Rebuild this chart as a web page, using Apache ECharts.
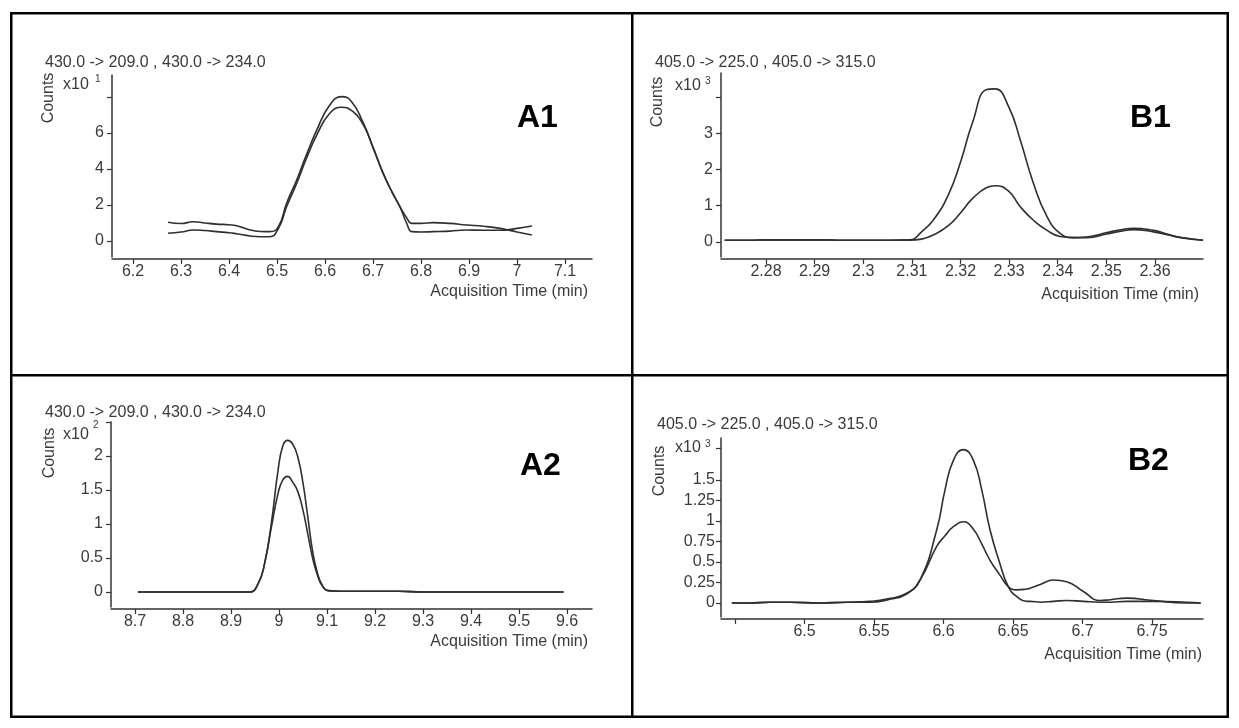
<!DOCTYPE html>
<html><head><meta charset="utf-8">
<script src="https://cdn.jsdelivr.net/npm/echarts@6/dist/echarts.min.js"></script>
<style>html,body{margin:0;padding:0;background:#fff}#c{width:1239px;height:728px}</style>
</head><body><div id="c"></div>
<script>
// ---------- DATA ----------
// A1
const A1_TIME = [6.273, 6.30, 6.326, 6.35, 6.374, 6.40, 6.416, 6.444, 6.465, 6.485, 6.503, 6.52, 6.541, 6.56, 6.583, 6.61, 6.635, 6.655, 6.679, 6.70, 6.721, 6.74, 6.756, 6.77, 6.781, 6.80, 6.825, 6.86, 6.895, 6.93, 6.965, 7.0, 7.031];
const A1_209 = [1.04, 0.97, 1.07, 1.0, 0.94, 0.9, 0.85, 0.61, 0.53, 0.52, 0.8, 2.1, 3.39, 4.7, 6.17, 7.56, 8.02, 7.75, 6.6, 5.2, 3.77, 2.7, 1.91, 1.3, 0.98, 0.98, 1.02, 0.98, 0.89, 0.82, 0.70, 0.5, 0.33];
const A1_234 = [0.43, 0.5, 0.61, 0.58, 0.52, 0.46, 0.4, 0.28, 0.24, 0.24, 0.7, 1.9, 3.2, 4.5, 5.9, 7.1, 7.43, 7.25, 6.5, 5.2, 3.77, 2.7, 1.91, 1.0, 0.52, 0.5, 0.52, 0.55, 0.61, 0.6, 0.6, 0.7, 0.83];
const A1_XTICKS = [6.2, 6.3, 6.4, 6.5, 6.6, 6.7, 6.8, 6.9, 7.0, 7.1];
const A1_YTICKS = [0, 2, 4, 6, 8];
const A1_YLABELS = [0, 2, 4, 6];

// B1
const B1_TIME = [2.2715, 2.276, 2.281, 2.286, 2.291, 2.296, 2.300, 2.305, 2.3095, 2.312, 2.3145, 2.3175, 2.320, 2.3225, 2.3254, 2.3271, 2.3299, 2.3323, 2.335, 2.3378, 2.3405, 2.3432, 2.346, 2.3501, 2.353, 2.3556, 2.3597, 2.3625, 2.3652, 2.3699];
const B1_225 = [0.05, 0.05, 0.06, 0.06, 0.06, 0.05, 0.05, 0.05, 0.06, 0.28, 0.62, 1.3, 2.2, 3.3, 4.2, 4.22, 3.73, 2.81, 1.62, 0.7, 0.24, 0.12, 0.14, 0.26, 0.34, 0.38, 0.32, 0.22, 0.13, 0.05];
const B1_315 = [0.05, 0.05, 0.06, 0.06, 0.06, 0.05, 0.05, 0.05, 0.05, 0.08, 0.2, 0.45, 0.8, 1.2, 1.5, 1.55, 1.40, 0.97, 0.6, 0.32, 0.15, 0.12, 0.12, 0.22, 0.3, 0.34, 0.28, 0.2, 0.12, 0.05];
const B1_XTICKS = [2.28, 2.29, 2.30, 2.31, 2.32, 2.33, 2.34, 2.35, 2.36];
const B1_YTICKS = [0, 1, 2, 3, 4];
const B1_YLABELS = [0, 1, 2, 3];

// A2
const A2_TIME = [8.706, 8.75, 8.80, 8.85, 8.90, 8.939, 8.957, 8.970, 8.984, 8.998, 9.008, 9.018, 9.028, 9.039, 9.05, 9.06, 9.07, 9.08, 9.09, 9.102, 9.13, 9.17, 9.20, 9.25, 9.30, 9.40, 9.50, 9.593];
const A2_209 = [0, 0, 0, 0, 0, 0, 0.13, 0.42, 1.01, 1.79, 2.15, 2.23, 2.18, 1.99, 1.6, 1.1, 0.6, 0.28, 0.1, 0.02, 0.01, 0.01, 0.01, 0.01, 0, 0, 0, 0];
const A2_234 = [0, 0, 0, 0, 0, 0, 0.13, 0.42, 0.95, 1.45, 1.65, 1.70, 1.62, 1.48, 1.2, 0.85, 0.5, 0.25, 0.09, 0.02, 0.01, 0.01, 0.01, 0.01, 0, 0, 0, 0];
const A2_XTICKS = [8.7, 8.8, 8.9, 9.0, 9.1, 9.2, 9.3, 9.4, 9.5, 9.6];
const A2_YTICKS = [0, 0.5, 1, 1.5, 2, 2.5];
const A2_YLABELS = [0, 0.5, 1, 1.5, 2];

// B2
const B2_TIME = [6.4477, 6.46, 6.475, 6.49, 6.51, 6.53, 6.547, 6.56, 6.5735, 6.5831, 6.5951, 6.6011, 6.6071, 6.6143, 6.6215, 6.6275, 6.6335, 6.6406, 6.6466, 6.6526, 6.6599, 6.6622, 6.67, 6.679, 6.6886, 6.7006, 6.7126, 6.72, 6.7318, 6.7509, 6.7749, 6.785];
const B2_225 = [0, 0, 0.01, 0.01, 0, 0.01, 0.02, 0.05, 0.12, 0.28, 0.89, 1.38, 1.74, 1.87, 1.74, 1.38, 0.89, 0.48, 0.20, 0.08, 0.02, 0.02, 0.01, 0.02, 0.03, 0.02, 0.01, 0.01, 0.02, 0.02, 0.01, 0];
const B2_315 = [0, 0, 0.01, 0.01, 0, 0.01, 0.01, 0.04, 0.11, 0.28, 0.69, 0.82, 0.93, 0.99, 0.9, 0.72, 0.52, 0.34, 0.2, 0.16, 0.17, 0.18, 0.23, 0.28, 0.26, 0.14, 0.03, 0.04, 0.06, 0.03, 0, 0];
const B2_XTICKS = [6.45, 6.5, 6.55, 6.6, 6.65, 6.7, 6.75];
const B2_XLABELS = [6.5, 6.55, 6.6, 6.65, 6.7, 6.75];
const B2_YTICKS = [0, 0.25, 0.5, 0.75, 1, 1.25, 1.5, 1.89];
const B2_YLABELS = [0, 0.25, 0.5, 0.75, 1, 1.25, 1.5];

const TITLE_A = '430.0 -> 209.0 , 430.0 -> 234.0';
const TITLE_B = '405.0 -> 225.0 , 405.0 -> 315.0';
const X_NAME = 'Acquisition Time (min)';
const Y_NAME = 'Counts';

// ---------- LAYOUT ----------
const FONT = '"Liberation Sans", Arial, Helvetica, sans-serif';
const TXT = '#3a3a3a';
const AX = '#333';
const LINE = '#2f2f2f';

const panels = [
  { grid: {left: 112, top: 75, width: 480, height: 182}, xMin: 6.15625, xMax: 7.15625, yMin: -0.889, yMax: 9.222,
    xTicks: A1_XTICKS, xLabels: A1_XTICKS, yTicks: A1_YTICKS, yLabels: A1_YLABELS, yMargin: 8,
    time: A1_TIME, series: [A1_209, A1_234] },
  { grid: {left: 721, top: 73, width: 482, height: 184}, xMin: 2.270745, xMax: 2.369881, yMin: -0.413, yMax: 4.656,
    xTicks: B1_XTICKS, xLabels: B1_XTICKS, yTicks: B1_YTICKS, yLabels: B1_YLABELS, yMargin: 8,
    time: B1_TIME, series: [B1_225, B1_315] },
  { grid: {left: 111, top: 422, width: 481, height: 185}, xMin: 8.65, xMax: 9.652, yMin: -0.2206, yMax: 2.5,
    xTicks: A2_XTICKS, xLabels: A2_XTICKS, yTicks: A2_YTICKS, yLabels: A2_YLABELS, yMargin: 8,
    time: A2_TIME, series: [A2_209, A2_234] },
  { grid: {left: 721, top: 438, width: 482, height: 179}, xMin: 6.43993, xMax: 6.78669, yMin: -0.1707, yMax: 2.012,
    xTicks: B2_XTICKS, xLabels: B2_XLABELS, yTicks: B2_YTICKS, yLabels: B2_YLABELS, yMargin: 6,
    time: B2_TIME, series: [B2_225, B2_315] }
];

function fmt(v) { return String(parseFloat(Number(v).toFixed(3))); }

const grids = [], xAxes = [], yAxes = [], series = [];
panels.forEach((p, i) => {
  grids.push(Object.assign({containLabel: false}, p.grid));
  xAxes.push({
    type: 'value', gridIndex: i, min: p.xMin, max: p.xMax, offset: 2,
    axisLine: {show: true, onZero: false, lineStyle: {color: AX, width: 1.5}},
    axisTick: {show: true, customValues: p.xTicks, length: 5, lineStyle: {color: AX, width: 1.2}},
    axisLabel: {customValues: p.xLabels, formatter: fmt, margin: 5, fontSize: 16, fontFamily: FONT, color: TXT},
    splitLine: {show: false}
  });
  yAxes.push({
    type: 'value', gridIndex: i, min: p.yMin, max: p.yMax,
    axisLine: {show: true, onZero: false, lineStyle: {color: AX, width: 1.5}},
    axisTick: {show: true, customValues: p.yTicks, length: 5, lineStyle: {color: AX, width: 1.2}},
    axisLabel: {customValues: p.yLabels, formatter: fmt, margin: p.yMargin, fontSize: 16, fontFamily: FONT, color: TXT},
    splitLine: {show: false}
  });
  p.series.forEach(vals => {
    series.push({
      type: 'line', xAxisIndex: i, yAxisIndex: i,
      data: p.time.map((t, k) => [t, vals[k]]),
      showSymbol: false, symbol: 'none', smooth: 0.5,
      lineStyle: {color: LINE, width: 1.6}, silent: true
    });
  });
});

function txt(x, y, text, opt) {
  opt = opt || {};
  return {
    type: 'text', x: x, y: y, rotation: opt.rotation || 0, silent: true,
    style: {
      text: text, fill: opt.fill || TXT,
      font: opt.font || ('16px ' + FONT),
      align: opt.align || 'left', verticalAlign: 'middle'
    }
  };
}
function rect(x, y, w, h) {
  return {type: 'rect', shape: {x: x, y: y, width: w, height: h}, style: {fill: '#000'}, silent: true};
}

const graphics = [
  // frame
  rect(10, 12, 1219, 2.5), rect(10, 715.5, 1219, 2.5),
  rect(10, 12, 2.5, 706), rect(1226.5, 12, 2.5, 706),
  rect(631, 12, 2.5, 706), rect(10, 374, 1219, 2.5),

  // A1
  txt(45, 63, TITLE_A),
  txt(49, 98, Y_NAME, {rotation: Math.PI / 2, align: 'center'}),
  txt(63, 85, 'x10'), txt(95, 79, '1', {font: '10px ' + FONT}),
  txt(517, 118, 'A1', {font: 'bold 32px ' + FONT, fill: '#000'}),
  txt(588, 292, X_NAME, {align: 'right'}),

  // B1
  txt(655, 63, TITLE_B),
  txt(658, 102, Y_NAME, {rotation: Math.PI / 2, align: 'center'}),
  txt(675, 86, 'x10'), txt(705, 81, '3', {font: '10px ' + FONT}),
  txt(1130, 118, 'B1', {font: 'bold 32px ' + FONT, fill: '#000'}),
  txt(1199, 295, X_NAME, {align: 'right'}),

  // A2
  txt(45, 413, TITLE_A),
  txt(50, 453, Y_NAME, {rotation: Math.PI / 2, align: 'center'}),
  txt(63, 435, 'x10'), txt(93, 425, '2', {font: '10px ' + FONT}),
  txt(520, 466, 'A2', {font: 'bold 32px ' + FONT, fill: '#000'}),
  txt(588, 642, X_NAME, {align: 'right'}),

  // B2
  txt(657, 425, TITLE_B),
  txt(660, 471, Y_NAME, {rotation: Math.PI / 2, align: 'center'}),
  txt(675, 448, 'x10'), txt(705, 444, '3', {font: '10px ' + FONT}),
  txt(1128, 461, 'B2', {font: 'bold 32px ' + FONT, fill: '#000'}),
  txt(1202, 655, X_NAME, {align: 'right'})
];

const chart = echarts.init(document.getElementById('c'), null, {renderer: 'canvas', width: 1239, height: 728});
chart.setOption({
  backgroundColor: '#fff',
  animation: false,
  grid: grids,
  xAxis: xAxes,
  yAxis: yAxes,
  series: series,
  graphic: graphics
});
</script></body></html>
